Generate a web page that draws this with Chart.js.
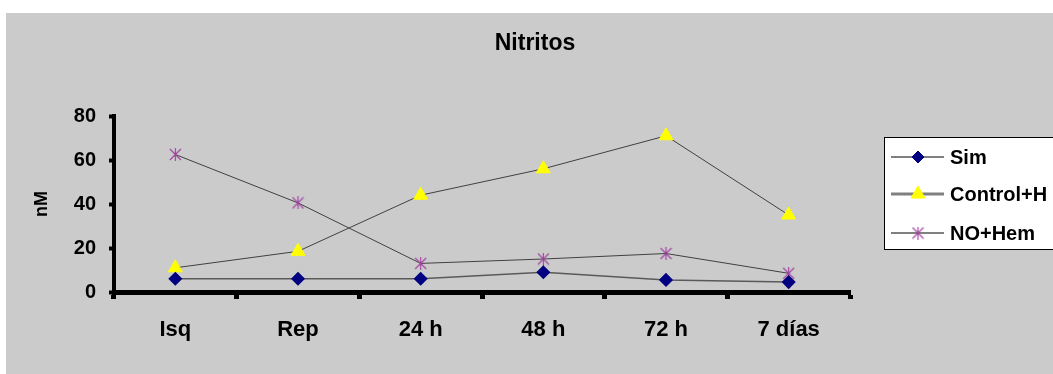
<!DOCTYPE html>
<html>
<head>
<meta charset="utf-8">
<script src="https://cdn.jsdelivr.net/npm/chart.js@4"></script>
<style>
  body { margin: 0; background: #fff; }
  #wrap { position: absolute; left: 6px; top: 13px; width: 1047px; height: 361px; background: #cbcbcb; }
</style>
</head>
<body>
<div id="wrap"><canvas id="chart" width="1047" height="361"></canvas></div>
<script>
// Data
const categories = ["Isq", "Rep", "24 h", "48 h", "72 h", "7 días"];
const sim = [6, 6, 6, 9, 5.5, 4.5];
const controlH = [11, 18.5, 44, 56, 71, 35];
const noHem = [62.5, 40.5, 13, 15, 17.5, 8.5];
const yTicks = [0, 20, 40, 60, 80];

const FONT = "Arial, 'Liberation Sans', sans-serif";

// asterisk marker (vertical + X), like the Excel one
function makeStar(color) {
  const c = document.createElement("canvas");
  c.width = 13; c.height = 13;
  const g = c.getContext("2d");
  g.strokeStyle = color;
  g.lineWidth = 1.1;
  g.beginPath();
  g.moveTo(6.5, 0); g.lineTo(6.5, 13);
  g.moveTo(1, 1); g.lineTo(12, 12);
  g.moveTo(12, 1); g.lineTo(1, 12);
  g.stroke();
  return c;
}
const star = makeStar("#a040a0");

// title centred over the whole panel, as in the original
const panelTitle = {
  id: "panelTitle",
  afterDraw(chart) {
    const ctx = chart.ctx;
    ctx.save();
    ctx.fillStyle = "#000";
    ctx.font = "bold 23px " + FONT;
    ctx.textAlign = "center";
    ctx.textBaseline = "middle";
    ctx.fillText("Nitritos", 529, 31);
    ctx.restore();
  }
};

// legend box like the original (line sample with marker in the middle)
const boxLegend = {
  id: "boxLegend",
  afterDraw(chart) {
    const ctx = chart.ctx;
    ctx.save();
    ctx.fillStyle = "#fff";
    ctx.strokeStyle = "#000";
    ctx.lineWidth = 1;
    ctx.fillRect(878, 124, 200, 112);
    ctx.strokeRect(878.5, 124.5, 200, 112);
    const rows = [144, 181, 220];
    const lineStyles = [
      { color: "#000", width: 1 },
      { color: "#808080", width: 3 },
      { color: "#000", width: 1 }
    ];
    chart.data.datasets.forEach((ds, i) => {
      const y = rows[i];
      ctx.strokeStyle = lineStyles[i].color;
      ctx.lineWidth = lineStyles[i].width;
      ctx.beginPath();
      ctx.moveTo(885, y);
      ctx.lineTo(938, y);
      ctx.stroke();
      ctx.fillStyle = ds.pointBackgroundColor;
      ctx.strokeStyle = ds.pointBorderColor;
      ctx.lineWidth = 1;
      Chart.helpers.drawPoint(ctx, { pointStyle: ds.pointStyle, radius: ds.pointRadius, rotation: 0, borderWidth: 1 }, 912, y);
      ctx.fillStyle = "#000";
      ctx.font = "bold 20px " + FONT;
      ctx.textBaseline = "middle";
      ctx.textAlign = "left";
      ctx.fillText(ds.label, 944, y + 1);
    });
    ctx.restore();
  }
};

new Chart(document.getElementById("chart"), {
  type: "line",
  data: {
    labels: categories,
    datasets: [
      {
        label: "Sim",
        data: sim,
        borderColor: "#5a5a5a",
        borderWidth: 1.5,
        pointStyle: "rectRot",
        pointRadius: 6,
        pointBackgroundColor: "#000080",
        pointBorderColor: "#000080",
        tension: 0
      },
      {
        label: "Control+H",
        data: controlH,
        borderColor: "#404040",
        borderWidth: 1,
        pointStyle: "triangle",
        pointRadius: 8,
        pointBackgroundColor: "#ffff00",
        pointBorderColor: "#ffff00",
        tension: 0
      },
      {
        label: "NO+Hem",
        data: noHem,
        borderColor: "#404040",
        borderWidth: 1,
        pointStyle: star,
        pointRadius: 6,
        pointBackgroundColor: "#a040a0",
        pointBorderColor: "#a040a0",
        tension: 0
      }
    ]
  },
  options: {
    responsive: false,
    animation: false,
    layout: { padding: { top: 103, left: 0, right: 203, bottom: 0 } },
    plugins: {
      legend: { display: false },
      tooltip: { enabled: false },
      title: { display: false }
    },
    scales: {
      x: {
        offset: true,
        grid: { offset: true, drawOnChartArea: false, drawTicks: true, tickLength: 7, tickWidth: 5, tickColor: "#000" },
        border: { color: "#000", width: 5 },
        ticks: { color: "#000", font: { family: FONT, size: 22, weight: "bold" }, padding: 18, maxRotation: 0 },
        afterFit: s => { s.height = 82; }
      },
      y: {
        min: 0,
        max: 80,
        afterBuildTicks: s => { s.ticks = yTicks.map(v => ({ value: v })); },
        grid: { drawOnChartArea: false, drawTicks: true, tickLength: 5, tickWidth: 4, tickColor: "#000" },
        border: { color: "#000", width: 4 },
        ticks: { color: "#000", font: { family: FONT, size: 20, weight: "bold" }, padding: 13 },
        title: { display: true, text: "nM", color: "#000", font: { family: FONT, size: 18, weight: "bold" }, padding: { top: 25, bottom: 0 } },
        afterFit: s => { s.width = 108; }
      }
    }
  },
  plugins: [panelTitle, boxLegend]
});
</script>
</body>
</html>
